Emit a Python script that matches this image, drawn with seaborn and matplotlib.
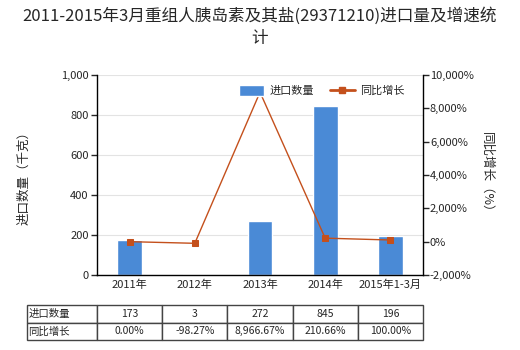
import matplotlib
matplotlib.use("Agg")
import matplotlib.pyplot as plt
import seaborn as sns
import pandas as pd
from matplotlib.lines import Line2D
from matplotlib.patches import Patch

categories = ["2011年", "2012年", "2013年", "2014年", "2015年1-3月"]
quantity = [173, 3, 272, 845, 196]
growth = [0.00, -98.27, 8966.67, 210.66, 100.00]
quantity_labels = ["173", "3", "272", "845", "196"]
growth_labels = ["0.00%", "-98.27%", "8,966.67%", "210.66%", "100.00%"]

sns.set_theme(style="white")
plt.rcParams['font.family'] = ['Noto Sans CJK SC', 'DejaVu Sans']
plt.rcParams['axes.unicode_minus'] = False

bar_color = "#4a8ad6"
line_color = "#c4501c"

df = pd.DataFrame({"cat": categories, "qty": quantity, "growth": growth})

fig = plt.figure(figsize=(5.2, 3.5), dpi=100)
ax = fig.add_axes([97/520, 1-275/350, (423-97)/520, 200/350])
sns.barplot(data=df, x="cat", y="qty", color=bar_color, width=0.38, ax=ax, saturation=1)
ax.set_ylim(0, 1000)
ax.set_yticks([0, 200, 400, 600, 800, 1000])
ax.set_yticklabels(["0", "200", "400", "600", "800", "1,000"])
ax.yaxis.grid(True, color="#e3e3e3", linewidth=0.8)
ax.set_axisbelow(True)
ax.set_xlabel("")
ax.set_ylabel("进口数量（千克）", fontsize=9, labelpad=22)
ax.tick_params(axis="y", length=4, width=1, labelsize=8, direction="out", left=True, pad=2)
ax.tick_params(axis="x", length=0, labelsize=8, pad=3)
for s in ["top", "right"]:
    ax.spines[s].set_visible(False)
for s in ["left", "bottom"]:
    ax.spines[s].set_color("black")
    ax.spines[s].set_linewidth(1)

ax2 = ax.twinx()
sns.lineplot(x=list(range(len(categories))), y=growth, ax=ax2, color=line_color,
             marker="s", markersize=4, markeredgecolor=line_color, linewidth=1)
ax2.set_ylim(-2000, 10000)
ax2.set_yticks([-2000, 0, 2000, 4000, 6000, 8000, 10000])
ax2.set_yticklabels(["-2,000%", "0%", "2,000%", "4,000%", "6,000%", "8,000%", "10,000%"])
ax2.set_ylabel("同比增长（%）", fontsize=9, rotation=270, labelpad=14)
ax2.tick_params(axis="y", length=4, width=1, labelsize=8, direction="out", right=True, pad=1)
for s in ["top", "left", "bottom"]:
    ax2.spines[s].set_visible(False)
ax2.spines["right"].set_color("black")
ax2.spines["right"].set_linewidth(1)
ax2.set_xlim(-0.5, len(categories) - 0.5)
ax.set_xlim(-0.5, len(categories) - 0.5)

handles = [Patch(facecolor=bar_color, label="进口数量"),
           Line2D([0], [0], color=line_color, marker="s", markersize=4, linewidth=2, label="同比增长")]
ax2.legend(handles=handles, loc="upper center", bbox_to_anchor=(0.69, 1.0), ncol=2,
           frameon=False, fontsize=8, handlelength=2.2, handleheight=1.1,
           columnspacing=1.5, handletextpad=0.5)

fig.suptitle("2011-2015年3月重组人胰岛素及其盐(29371210)进口量及增速统\n计", fontsize=12, y=0.98, linespacing=1.4)

cell_text = [["进口数量"] + quantity_labels, ["同比增长"] + growth_labels]
tab = fig.add_axes([27/520, 1-340/350, (423-27)/520, 35/350])
tab.axis("off")
col_w = [70/396] + [65.2/396] * 5
table = tab.table(cellText=cell_text, colWidths=col_w, loc="center", bbox=[0, 0, 1, 1], cellLoc="center")
table.auto_set_font_size(False)
for (r, c), cell in table.get_celld().items():
    cell.set_edgecolor("#444444")
    cell.set_linewidth(1)
    cell.get_text().set_fontsize(7.5)
    if c == 0:
        cell.get_text().set_ha("left")
        cell._loc = "left"
        cell.PAD = 0.02

fig.savefig("out.png", dpi=100)
